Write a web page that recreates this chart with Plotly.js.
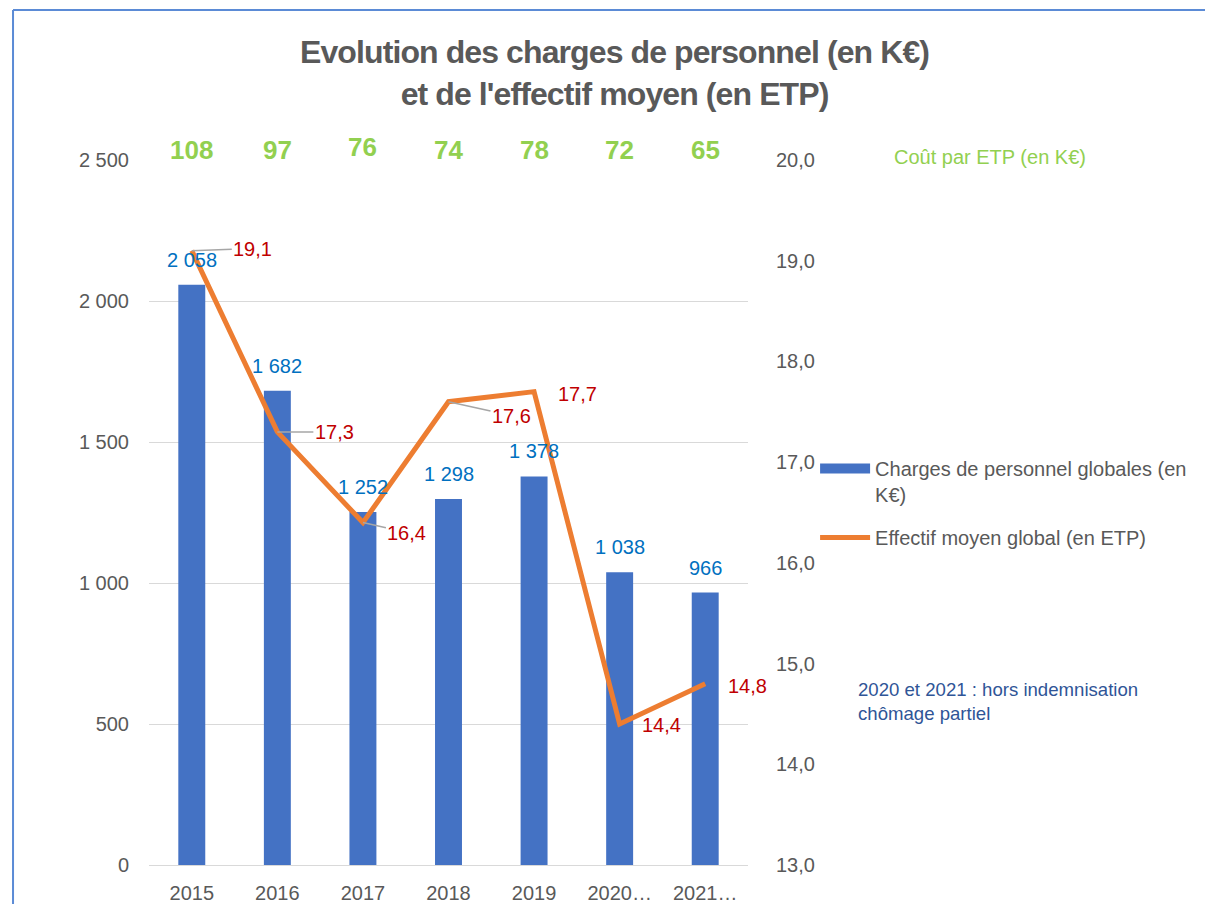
<!DOCTYPE html>
<html>
<head>
<meta charset="utf-8">
<script src="https://cdn.plot.ly/plotly-3.0.1.min.js"></script>
<style>
  html, body { margin: 0; padding: 0; background: #fff; }
  #chart { width: 1205px; height: 904px; }
  .gtitle { letter-spacing: -0.9px; }
</style>
</head>
<body>
<div id="chart"></div>
<script>
// ---- data ----
const years = ['2015', '2016', '2017', '2018', '2019', '2020…', '2021…'];
const charges = [2058, 1682, 1252, 1298, 1378, 1038, 966];
const effectif = [19.1, 17.3, 16.4, 17.6, 17.7, 14.4, 14.8];
const coutParEtp = [108, 97, 76, 74, 78, 72, 65];

// ---- label placement (pixels) ----
const effLabelDx = [61, 57, 44, 63, 43, 42, 42];
const effLabelDy = [-2, 0, 10, 14, 2, 1, 2];
const effLeader = [true, true, true, true, false, false, false];
const coutLift = [0, 0, 3, 0, 0, 0, 0];

const fontFam = 'Liberation Sans, Arial, sans-serif';
const grey = '#595959';
const LBL = 20;

function fmtK(v) { return String(v).replace(/\B(?=(\d{3})+(?!\d))/g, ' '); }
function fmt1(v) { return v.toFixed(1).replace('.', ','); }

const traces = [
  {
    type: 'bar', name: 'Charges de personnel globales (en<br>K€)',
    x: years, y: charges, marker: { color: '#4472C4' },
    yaxis: 'y', hoverinfo: 'skip', showlegend: false
  },
  {
    // legend entry for the bars (wide rectangle swatch)
    type: 'scatter', mode: 'lines', name: 'Charges de personnel globales (en<br>K€)',
    x: [null], y: [null], yaxis: 'y', legendgroup: 'a',
    line: { color: '#4472C4', width: 11 }, hoverinfo: 'skip'
  },
  {
    type: 'scatter', mode: 'lines', name: 'Effectif moyen global (en ETP)',
    x: years, y: effectif, yaxis: 'y2', legendgroup: 'b',
    line: { color: '#ED7D31', width: 5 }, hoverinfo: 'skip'
  }
];

const annotations = [];
years.forEach((yr, i) => {
  annotations.push({
    x: i, y: charges[i], xref: 'x', yref: 'y',
    text: fmtK(charges[i]), showarrow: false, yshift: 25,
    font: { family: fontFam, size: LBL, color: '#0070C0' }
  });
  if (effLeader[i]) {
    annotations.push({
      x: i, y: effectif[i], xref: 'x', yref: 'y2',
      text: fmt1(effectif[i]), showarrow: true, arrowhead: 0, standoff: 0,
      arrowwidth: 1.5, arrowcolor: '#A6A6A6',
      ax: effLabelDx[i], ay: effLabelDy[i],
      font: { family: fontFam, size: LBL, color: '#C00000' }
    });
  } else {
    annotations.push({
      x: i, y: effectif[i], xref: 'x', yref: 'y2',
      text: fmt1(effectif[i]), showarrow: false,
      xshift: effLabelDx[i], yshift: -effLabelDy[i],
      font: { family: fontFam, size: LBL, color: '#C00000' }
    });
  }
  annotations.push({
    x: i, y: 1, xref: 'x', yref: 'paper', yanchor: 'bottom',
    text: '<b>' + coutParEtp[i] + '</b>', showarrow: false, yshift: -7 + coutLift[i],
    font: { family: fontFam, size: 26, color: '#92D050' }
  });
});
annotations.push({
  x: 1.24, y: 1.004, xref: 'paper', yref: 'paper', xanchor: 'left', yanchor: 'middle',
  text: 'Coût par ETP (en K€)', showarrow: false,
  font: { family: fontFam, size: 20, color: '#92D050' }
});
annotations.push({
  x: 1.18, y: 0.267, xref: 'paper', yref: 'paper', xanchor: 'left', yanchor: 'top',
  text: '2020 et 2021 : hors indemnisation<br>chômage partiel', showarrow: false, align: 'left',
  font: { family: fontFam, size: 18.6, color: '#2F5597' }
});

const layout = {
  width: 1205, height: 904,
  margin: { l: 149, r: 457, t: 160, b: 39 },
  paper_bgcolor: '#ffffff', plot_bgcolor: '#ffffff',
  separators: ', ',
  font: { family: fontFam, color: grey, size: 20 },
  title: {
    text: '<b>Evolution des charges de personnel (en K€)<br>et de l\'effectif moyen (en ETP)</b>',
    x: 0.51, xanchor: 'center', y: 0.93, yanchor: 'top',
    font: { family: fontFam, size: 32, color: grey }
  },
  bargap: 0.685,
  showlegend: true,
  legend: {
    x: 1.112, y: 0.59, xanchor: 'left', yanchor: 'top', valign: 'top',
    font: { family: fontFam, size: 20, color: grey },
    tracegroupgap: 14, itemwidth: 50, bgcolor: 'rgba(0,0,0,0)'
  },
  xaxis: {
    type: 'category', range: [-0.5, 6.5], showgrid: false, zeroline: false, showline: true,
    linecolor: '#D9D9D9', linewidth: 1, ticks: '', ticklabelstandoff: 10,
    tickfont: { family: fontFam, size: 20, color: grey }, fixedrange: true
  },
  yaxis: {
    range: [0, 2500], dtick: 500, tickformat: ',.0f', showgrid: true,
    gridcolor: '#D9D9D9', gridwidth: 1, zeroline: false, showline: false, ticks: '',
    ticklabelstandoff: 19, tickfont: { family: fontFam, size: 20, color: grey }, fixedrange: true
  },
  yaxis2: {
    overlaying: 'y', side: 'right', range: [13, 20], dtick: 1, tickformat: '.1f',
    showgrid: false, zeroline: false, showline: false, ticks: '',
    ticklabelstandoff: 27, tickfont: { family: fontFam, size: 20, color: grey }, fixedrange: true
  },
  annotations: annotations,
  shapes: [
    { type: 'line', xref: 'paper', yref: 'paper', x0: -0.227, x1: 1.77, y0: 1.2128, y1: 1.2128,
      line: { color: '#5B8BD6', width: 2 } },
    { type: 'line', xref: 'paper', yref: 'paper', x0: -0.227, x1: -0.227, y0: 1.2128, y1: -0.1,
      line: { color: '#5B8BD6', width: 2 } }
  ]
};

Plotly.newPlot('chart', traces, layout, { displayModeBar: false, staticPlot: true });
</script>
</body>
</html>
